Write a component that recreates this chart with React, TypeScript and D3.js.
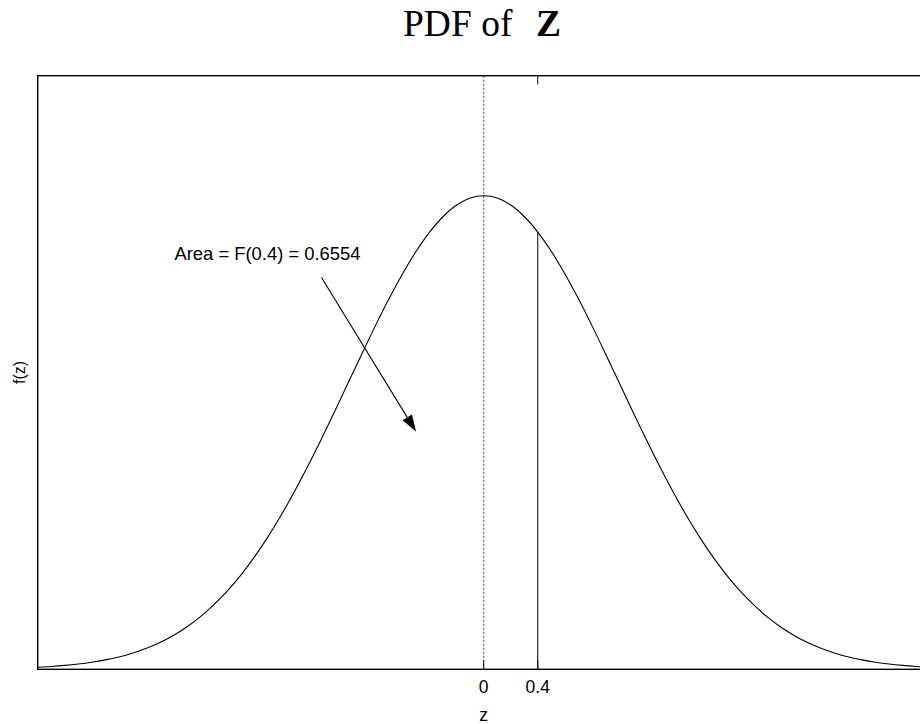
import React from "react";
import * as d3 from "d3";

const zValues = [
  -3.3, -3.2, -3.1, -3.0, -2.9, -2.8, -2.7, -2.6, -2.5, -2.4, -2.3, -2.2, -2.1, -2.0, -1.9, -1.8, -1.7,
  -1.6, -1.5, -1.4, -1.3, -1.2, -1.1, -1.0, -0.9, -0.8, -0.7, -0.6, -0.5, -0.4, -0.3, -0.2, -0.1,
  0, 0.1, 0.2, 0.3, 0.4, 0.5, 0.6, 0.7, 0.8, 0.9, 1.0, 1.1, 1.2, 1.3, 1.4, 1.5, 1.6, 1.7, 1.8,
  1.9, 2.0, 2.1, 2.2, 2.3, 2.4, 2.5, 2.6, 2.7, 2.8, 2.9, 3.0, 3.1, 3.2, 3.3,
];
const densityValues = [
  0.00172, 0.00238, 0.00327, 0.00443, 0.00595, 0.00792, 0.01042, 0.01358, 0.01753, 0.02239, 0.02833,
  0.03547, 0.04398, 0.05399, 0.06562, 0.07895, 0.09405, 0.11092, 0.12952, 0.14973, 0.17137, 0.19419,
  0.21785, 0.24197, 0.26609, 0.28969, 0.31225, 0.33322, 0.35207, 0.36827, 0.38139, 0.39104, 0.39695,
  0.39894, 0.39695, 0.39104, 0.38139, 0.36827, 0.35207, 0.33322, 0.31225, 0.28969, 0.26609, 0.24197,
  0.21785, 0.19419, 0.17137, 0.14973, 0.12952, 0.11092, 0.09405, 0.07895, 0.06562, 0.05399, 0.04398,
  0.03547, 0.02833, 0.02239, 0.01753, 0.01358, 0.01042, 0.00792, 0.00595, 0.00443, 0.00327, 0.00238,
  0.00172,
];
const xTicks = [0, 0.4];
const xTickLabels = ["0", "0.4"];
const cutoff = 0.4;
const cutoffDensity = 0.36827;
const annotationText = "Area = F(0.4) = 0.6554";
const annotationPos = [-1.6, 0.35];
const arrowFrom = [-1.2, 0.33];
const arrowTo = [-0.5, 0.2];

const W = 920;
const H = 724;

export default function App() {
  const x = d3.scaleLinear().domain([-3.3, 3.3]).range([37.7, 929.7]);
  const y = d3.scaleLinear().domain([0, 0.5]).range([669.3, 75.7]);
  const pts = zValues.map((z, i) => [z, densityValues[i]] as [number, number]);
  const line = d3
    .line<[number, number]>()
    .x((d) => x(d[0]))
    .y((d) => y(d[1]))
    .curve(d3.curveCatmullRom.alpha(0.5));

  const ax = x(arrowFrom[0]);
  const ay = y(arrowFrom[1]);
  const bx = x(arrowTo[0]);
  const by = y(arrowTo[1]);
  const ang = Math.atan2(by - ay, bx - ax);
  const headLen = 17;
  const headHalf = 5.5;
  const hx = bx - headLen * Math.cos(ang);
  const hy = by - headLen * Math.sin(ang);
  const px = -Math.sin(ang) * headHalf;
  const py = Math.cos(ang) * headHalf;
  const head = `M${bx},${by}L${hx + px},${hy + py}L${hx - px},${hy - py}Z`;

  const sans = "'Liberation Sans', Arial, sans-serif";
  const top = y(0.5);
  const bottom = y(0);

  return (
    <svg
      width={W}
      height={H}
      style={{ position: "absolute", left: 0, top: 0, background: "#fff" }}
    >
      <rect x={0} y={0} width={W} height={H} fill="#fff" />
      <text
        x={403}
        y={36}
        fontFamily="'Liberation Serif', 'Times New Roman', serif"
        fontSize={37.5}
        fill="#000"
      >
        PDF of
        <tspan fontWeight="bold" x={536}>Z</tspan>
      </text>
      <line x1={x(0)} x2={x(0)} y1={top} y2={bottom} stroke="#000" strokeWidth={0.8} strokeDasharray="2,2" />
      <line x1={x(cutoff)} x2={x(cutoff)} y1={y(cutoffDensity)} y2={bottom} stroke="#000" strokeWidth={1} />
      <path d={line(pts) || ""} fill="none" stroke="#000" strokeWidth={1.1} />
      {xTicks.map((t) => (
        <line key={"bt" + t} x1={x(t)} x2={x(t)} y1={bottom} y2={bottom - 8.7} stroke="#000" strokeWidth={1} />
      ))}
      <line x1={x(cutoff)} x2={x(cutoff)} y1={top} y2={top + 8.7} stroke="#000" strokeWidth={1} />
      <rect
        x={x(-3.3)}
        y={top}
        width={x(3.3) - x(-3.3)}
        height={bottom - top}
        fill="none"
        stroke="#000"
        strokeWidth={1.4}
      />
      {xTicks.map((t, i) => (
        <text key={"tl" + t} x={x(t)} y={693} textAnchor="middle" fontFamily={sans} fontSize={17.5} fill="#000">
          {xTickLabels[i]}
        </text>
      ))}
      <text x={x(0)} y={721} textAnchor="middle" fontFamily={sans} fontSize={17.5} fill="#000">
        z
      </text>
      <text
        transform={`translate(25,${(top + bottom) / 2}) rotate(-90)`}
        textAnchor="middle"
        fontFamily={sans}
        fontSize={16}
        fill="#000"
      >
        f(z)
      </text>
      <text
        x={x(annotationPos[0])}
        y={y(annotationPos[1]) + 6.5}
        textAnchor="middle"
        fontFamily={sans}
        fontSize={18.4}
        fill="#000"
      >
        {annotationText}
      </text>
      <line x1={ax} y1={ay} x2={hx} y2={hy} stroke="#000" strokeWidth={1.1} />
      <path d={head} fill="#000" />
    </svg>
  );
}
